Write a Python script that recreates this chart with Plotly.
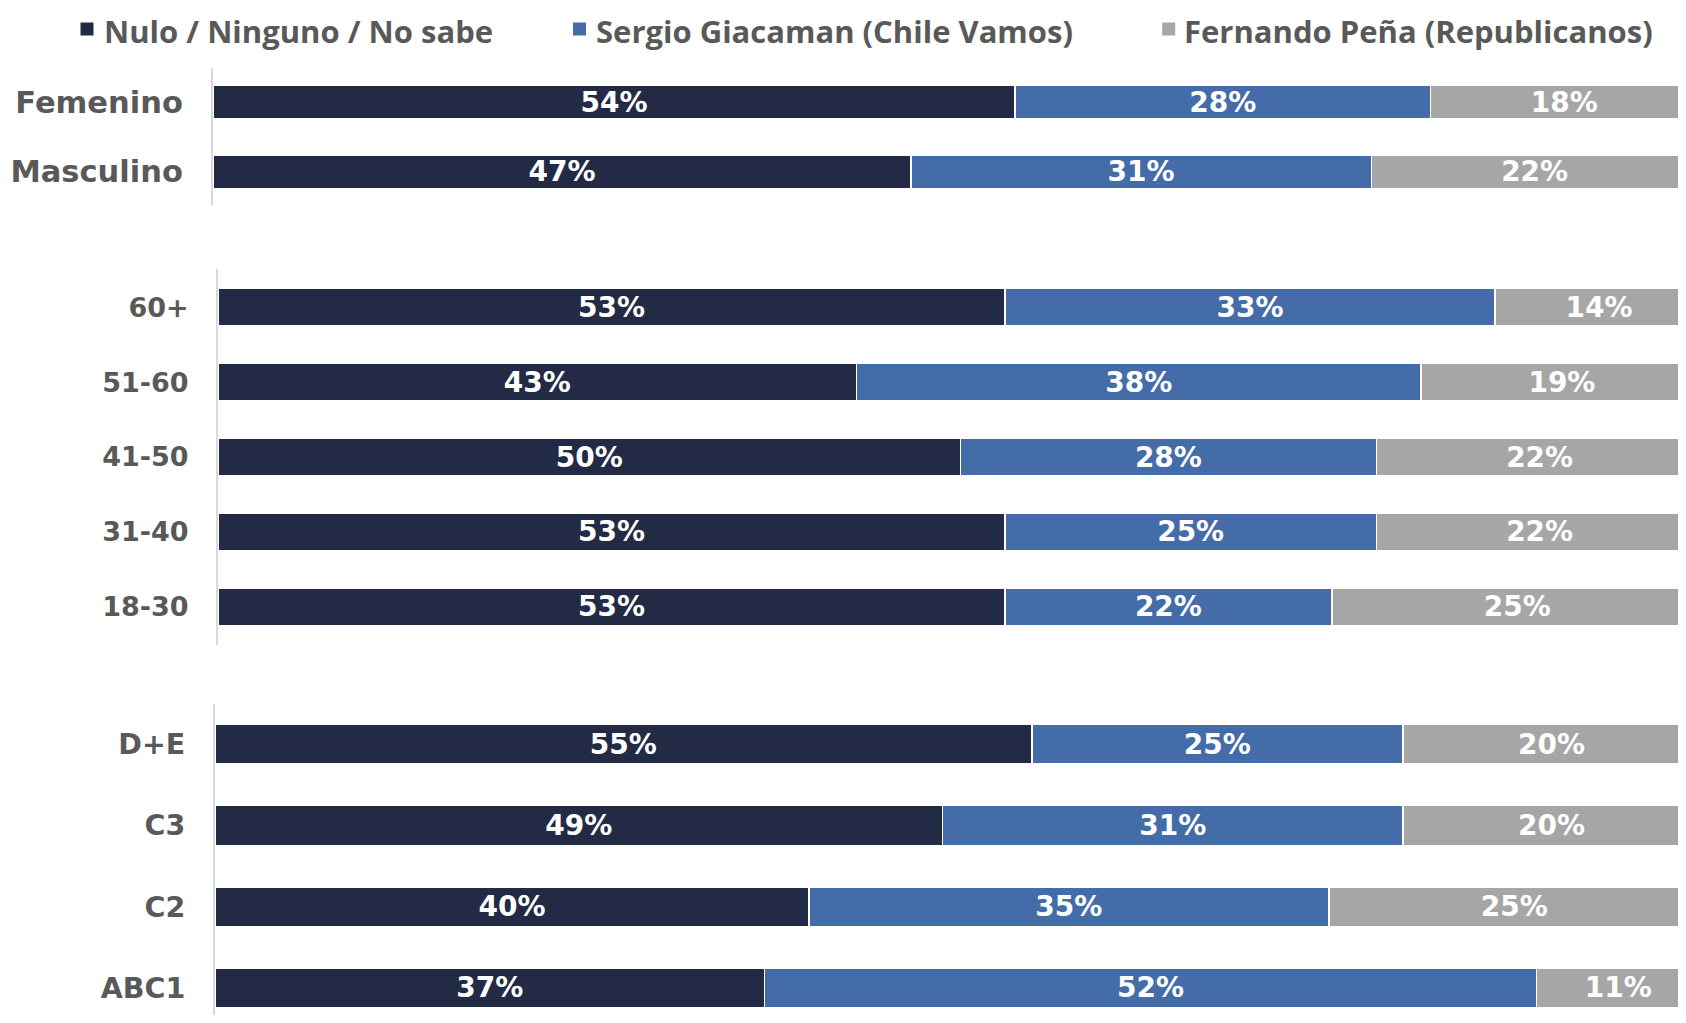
import plotly.graph_objects as go
from plotly.subplots import make_subplots

series = ['Nulo / Ninguno / No sabe', 'Sergio Giacaman (Chile Vamos)', 'Fernando Peña (Republicanos)']
colors = ['#232A45', '#446CA9', '#A6A6A6']

# sexo
genero = ['Femenino', 'Masculino']
genero_nulo = [54, 47]
genero_giacaman = [28, 31]
genero_pena = [18, 22]

# edad
edad = ['60+', '51-60', '41-50', '31-40', '18-30']
edad_nulo = [53, 43, 50, 53, 53]
edad_giacaman = [33, 38, 28, 25, 22]
edad_pena = [14, 19, 22, 22, 25]

# GSE
gse = ['D+E', 'C3', 'C2', 'ABC1']
gse_nulo = [55, 49, 40, 37]
gse_giacaman = [25, 31, 35, 52]
gse_pena = [20, 20, 25, 11]

groups = [
    (genero, [genero_nulo, genero_giacaman, genero_pena], 0.48),
    (edad, [edad_nulo, edad_giacaman, edad_pena], 0.5),
    (gse, [gse_nulo, gse_giacaman, gse_pena], 0.49),
]

W, H = 1670, 1007   # page adds an 8px body margin around the figure
LABEL_FONT = 'DejaVu Sans'
LEGEND_FONT = 'Open Sans'
GREY = '#595959'
PX_PER_PCT = 14.85

fig = make_subplots(rows=3, cols=1)

row = 1
for cats, vals, bw in groups:
    for i in range(3):
        fig.add_trace(go.Bar(
            y=cats, x=vals[i], orientation='h', name=series[i],
            marker=dict(color=colors[i], line=dict(color='white', width=1.5)),
            width=bw,
            text=[f'{v}%' for v in vals[i]],
            textposition='inside', insidetextanchor='middle',
            constraintext='none',
            textfont=dict(family=LABEL_FONT, size=28, color='white', weight='bold'),
            showlegend=False,
            hoverinfo='skip',
        ), row=row, col=1)
    row += 1

axis_x = [205, 210, 207]
y_px = [(60, 197), (261, 637), (696, 1007)]
y_ranges = [[1.48, -0.49], [4.51, -0.51], [3.333, -0.494]]
tick_sizes = [30.5, 27, 28.5]

for r in range(3):
    fig.update_xaxes(domain=[axis_x[r]/W, 1], range=[0, (W - axis_x[r])/PX_PER_PCT],
                     visible=False, row=r+1, col=1)
    fig.update_yaxes(domain=[1 - y_px[r][1]/H, 1 - y_px[r][0]/H], range=y_ranges[r],
                     type='category', showline=True, linecolor='#D9D9D9', linewidth=2,
                     showgrid=False, ticks='', ticklabelstandoff=22,
                     tickfont=dict(family=LABEL_FONT, size=tick_sizes[r], color=GREY, weight='bold'),
                     row=r+1, col=1)

# legend drawn as squares + labels across the top
legend_marker_x = [79, 571.5, 1160.7]
legend_text_x = [94, 585.5, 1174]
for i in range(3):
    fig.add_shape(type='rect', xref='paper', yref='paper',
                  xsizemode='pixel', ysizemode='pixel',
                  xanchor=legend_marker_x[i]/W, yanchor=1 - 21/H,
                  x0=-6.5, x1=6.5, y0=-6.5, y1=6.5,
                  fillcolor=colors[i], line_width=0)
    fig.add_annotation(x=legend_text_x[i]/W, y=1, xref='paper', yref='paper',
                       text=series[i], showarrow=False, xanchor='left', yanchor='top',
                       font=dict(family=LEGEND_FONT, size=31, color=GREY, weight='bold'))

fig.update_layout(
    width=W, height=H,
    barmode='stack',
    plot_bgcolor='white', paper_bgcolor='white',
    margin=dict(l=0, r=0, t=0, b=0, autoexpand=False),
    showlegend=False,
)

fig.write_html("out.html")
